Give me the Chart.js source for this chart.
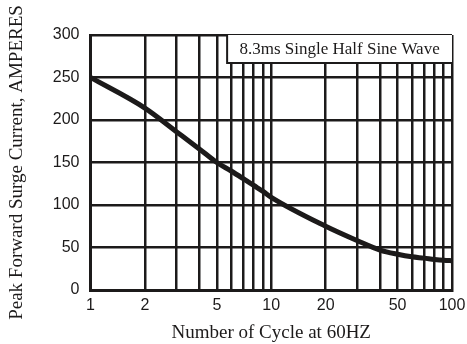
<!DOCTYPE html>
<html>
<head>
<meta charset="utf-8">
<script src="https://cdn.jsdelivr.net/npm/chart.js@4.4.1/dist/chart.umd.min.js"></script>
<style>
  html, body { margin: 0; padding: 0; background: #fff; }
  #wrap { width: 467px; height: 344px; }
</style>
</head>
<body>
<div id="wrap"><canvas id="surgeChart" width="467" height="344"></canvas></div>
<script>
// values at the grid lines
const cycles = [1, 2, 3, 4, 5, 6, 7, 8, 9, 10, 20, 30, 40, 50, 60, 70, 80, 90, 100];
const surgeAmps = [250, 214, 186, 166, 150, 140, 131, 123, 116, 109, 75, 58, 47, 42, 39, 37.5, 36, 35, 34.5];
const xGridValues = [1, 2, 3, 4, 5, 6, 7, 8, 9, 10, 20, 30, 40, 50, 60, 70, 80, 90, 100];
const xLabelValues = [1, 2, 5, 10, 20, 50, 100];
const yTicks = [0, 50, 100, 150, 200, 250, 300];
const noteText = '8.3ms Single Half Sine Wave';
const noteBox = { fromCycle: 5.7, downTo: 267 };

const ink = '#1c1a1a';
const serif = '"Liberation Serif", "Times New Roman", serif';
const sans = '"Liberation Sans", Arial, sans-serif';

const notePlugin = {
    id: 'noteBox',
    afterDatasetsDraw(chart) {
        const { ctx, chartArea, scales } = chart;
        const left = scales.x.getPixelForValue(noteBox.fromCycle);
        const bottom = scales.y.getPixelForValue(noteBox.downTo);
        ctx.save();
        ctx.fillStyle = '#fff';
        ctx.fillRect(left, chartArea.top, chartArea.right - left, bottom - chartArea.top);
        ctx.strokeStyle = ink;
        ctx.lineWidth = 2;
        ctx.beginPath();
        ctx.moveTo(left, chartArea.top);
        ctx.lineTo(left, bottom);
        ctx.lineTo(chartArea.right, bottom);
        ctx.stroke();
        ctx.fillStyle = ink;
        ctx.font = '17px ' + serif;
        ctx.textAlign = 'center';
        ctx.textBaseline = 'middle';
        ctx.fillText(noteText, (left + chartArea.right) / 2, (chartArea.top + bottom) / 2 + 1);
        ctx.restore();
    }
};

new Chart(document.getElementById('surgeChart'), {
    type: 'line',
    data: {
        datasets: [{
            data: cycles.map((c, i) => ({ x: c, y: surgeAmps[i] })),
            borderColor: ink,
            borderWidth: 5,
            pointRadius: 0,
            cubicInterpolationMode: 'monotone',
            fill: false
        }]
    },
    options: {
        responsive: false,
        animation: false,
        layout: { padding: { top: 35, right: 15, bottom: 0, left: 6 } },
        plugins: { legend: { display: false }, tooltip: { enabled: false } },
        scales: {
            x: {
                type: 'logarithmic',
                min: 1,
                max: 100,
                afterBuildTicks: (axis) => { axis.ticks = xGridValues.map(v => ({ value: v })); },
                // let the "100" label hang past the edge like the original
                afterFit: (axis) => { axis.paddingRight = 0; },
                grid: { color: ink, lineWidth: 2.5, drawTicks: false },
                border: { color: ink, width: 3 },
                ticks: {
                    autoSkip: false,
                    maxRotation: 0,
                    padding: 6,
                    color: ink,
                    font: { family: sans, size: 16 },
                    callback: (v) => xLabelValues.includes(v) ? String(v) : ''
                },
                title: {
                    display: true,
                    text: 'Number of Cycle at 60HZ',
                    color: ink,
                    font: { family: serif, size: 19 },
                    padding: { top: 0, bottom: 0 }
                }
            },
            y: {
                min: 0,
                max: 300,
                afterBuildTicks: (axis) => { axis.ticks = yTicks.map(v => ({ value: v })); },
                grid: { color: ink, lineWidth: 2.5, drawTicks: false },
                border: { color: ink, width: 3 },
                ticks: {
                    padding: 11,
                    color: ink,
                    font: { family: sans, size: 16 }
                },
                title: {
                    display: true,
                    text: 'Peak Forward Surge Current, AMPERES',
                    color: ink,
                    font: { family: serif, size: 19 },
                    padding: { top: 0, bottom: 13 }
                }
            }
        }
    },
    plugins: [notePlugin]
});
</script>
</body>
</html>
